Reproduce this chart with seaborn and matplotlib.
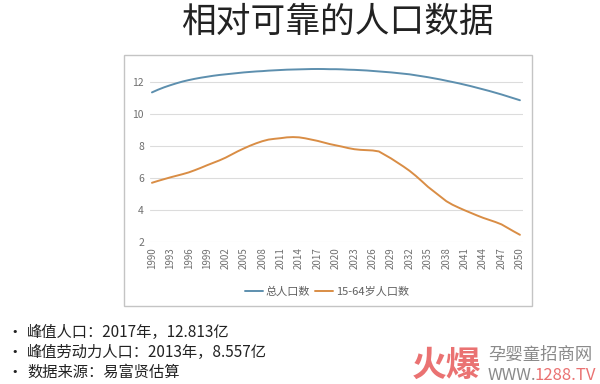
import matplotlib
matplotlib.use("Agg")
import matplotlib.pyplot as plt
import seaborn as sns
import pandas as pd
from matplotlib.patches import Rectangle

# --- данные (оценка по картинке) ---
years = list(range(1990, 2051))
total_pop = [
    11.35, 11.52, 11.67, 11.80, 11.92, 12.03, 12.12, 12.20, 12.27, 12.33,
    12.39, 12.44, 12.48, 12.52, 12.56, 12.60, 12.63, 12.66, 12.68, 12.71,
    12.73, 12.75, 12.77, 12.78, 12.79, 12.80, 12.81, 12.813, 12.81, 12.80,
    12.80, 12.79, 12.77, 12.76, 12.74, 12.72, 12.69, 12.66, 12.63, 12.60,
    12.56, 12.52, 12.48, 12.42, 12.36, 12.30, 12.23, 12.16, 12.08, 12.00,
    11.92, 11.83, 11.74, 11.64, 11.54, 11.44, 11.33, 11.22, 11.10, 10.98,
    10.86,
]
working_pop = [
    5.70, 5.82, 5.93, 6.04, 6.14, 6.24, 6.35, 6.49, 6.64, 6.80,
    6.95, 7.10, 7.27, 7.47, 7.67, 7.85, 8.02, 8.17, 8.30, 8.40,
    8.45, 8.49, 8.54, 8.557, 8.54, 8.48, 8.40, 8.32, 8.22, 8.12,
    8.04, 7.96, 7.87, 7.80, 7.76, 7.74, 7.72, 7.66, 7.44, 7.22,
    6.97, 6.72, 6.45, 6.14, 5.80, 5.45, 5.15, 4.85, 4.55, 4.33,
    4.15, 3.98, 3.82, 3.66, 3.51, 3.38, 3.25, 3.10, 2.88, 2.66,
    2.45,
]
series_names = ["总人口数", "15-64岁人口数"]
x_ticks = years[::3]
y_ticks = [2, 4, 6, 8, 10, 12]

title = "相对可靠的人口数据"
notes = [
    "峰值人口：2017年，12.813亿",
    "峰值劳动力人口：2013年，8.557亿",
    "数据来源：易富贤估算",
]

sns.set_theme(style="white")
plt.rcParams["font.family"] = ["Noto Sans CJK SC", "DejaVu Sans"]

df = pd.DataFrame({
    "year": years * 2,
    "value": total_pop + working_pop,
    "series": [series_names[0]] * len(years) + [series_names[1]] * len(years),
})

fig = plt.figure(figsize=(6, 3.84), dpi=100)
fig.patch.set_facecolor("white")

# рамка вокруг графика
fig.patches.append(Rectangle((124 / 600, 1 - 306 / 384), 408 / 600, 251 / 384,
                             transform=fig.transFigure, fill=False,
                             edgecolor="#c4c4c4", linewidth=1.0))

ax = fig.add_axes([149.5 / 600, 1 - 242 / 384, 373.5 / 600, 180 / 384])
sns.lineplot(data=df, x="year", y="value", hue="series", ax=ax,
             palette=["#5d8fae", "#d98d45"], linewidth=1.4, legend=False)

ax.set_xlim(1989.6, 2050.5)
ax.set_ylim(2, 13.25)
ax.set_xticks(x_ticks)
ax.set_xticklabels([str(y) for y in x_ticks], rotation=90, fontsize=7,
                   color="#707070")
ax.set_yticks(y_ticks)
ax.set_yticklabels([str(v) for v in y_ticks], fontsize=7.5, color="#707070")
ax.tick_params(axis="both", length=0, pad=4)
ax.grid(axis="y", color="#dcdcdc", linewidth=0.8)
ax.set_axisbelow(True)
for s in ax.spines.values():
    s.set_visible(False)
ax.set_xlabel("")
ax.set_ylabel("")

handles = ax.get_lines()[:2]
fig.legend(handles, series_names, loc="center", bbox_to_anchor=(327 / 600, 1 - 292 / 384),
           ncol=2, frameon=False, fontsize=8, labelcolor="#606060",
           handlelength=1.6, handletextpad=0.3, columnspacing=0.4)

fig.text(337 / 600, 1 - 22 / 384, title, ha="center", va="center",
         fontsize=25, color="#222222")

for i, line in enumerate(notes):
    yy = 1 - (332 + i * 20) / 384
    fig.text(11 / 600, yy, "•", ha="left", va="center", fontsize=8,
             color="#222222", family="DejaVu Sans")
    fig.text(27 / 600, yy, line, ha="left", va="center", fontsize=11,
             color="#222222")

# водяной знак
fig.text(412 / 600, 1 - 365 / 384, "火爆", ha="left", va="center",
         fontsize=25, color="#ea7272", fontweight="bold")
fig.text(488 / 600, 1 - 355 / 384, "孕婴童招商网", ha="left", va="center",
         fontsize=12.5, color="#8a8a8a")
fig.text(488 / 600, 1 - 375 / 384, "WWW.", ha="left", va="center",
         fontsize=12, color="#8a8a8a")
fig.text(534 / 600, 1 - 375 / 384, "1288.TV", ha="left", va="center",
         fontsize=12, color="#ea7272")

fig.savefig("out.png", dpi=100)
